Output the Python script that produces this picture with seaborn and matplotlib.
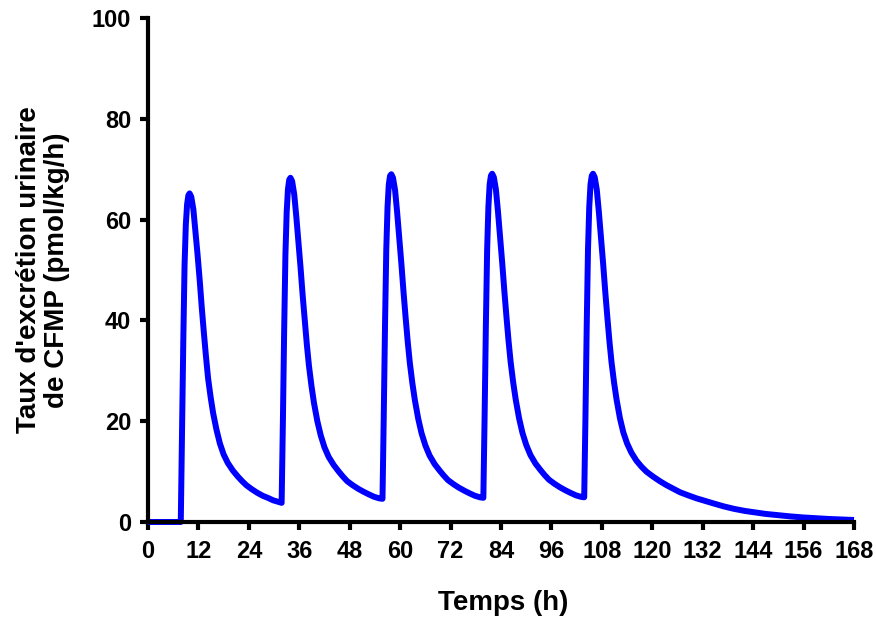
import matplotlib
matplotlib.use("Agg")
import matplotlib.pyplot as plt
import seaborn as sns
import pandas as pd

# ---- data ----
t_base = [0.0, 7.8]
v_base = [0.0, 0.0]

t_c1 = [8.1, 8.4, 8.7, 9.0, 9.3, 9.6, 9.9, 10.3, 10.8, 11.3, 11.8, 12.3, 12.8, 13.3, 13.8, 14.3, 14.9,
        15.5, 16.3, 17.1, 18.0, 19.0, 20.2, 21.4, 22.4, 23.4, 24.7, 26.0, 27.3, 28.5, 29.8, 31.0, 31.8]
v_c1 = [18, 36, 51, 59, 63, 64.8, 65.2, 64.5, 62, 57.5, 53, 48, 42.5, 37.5, 32.8, 28.5, 24.8,
        21.6, 18.3, 15.6, 13.4, 11.7, 10.2, 9.0, 8.1, 7.3, 6.5, 5.8, 5.2, 4.8, 4.3, 4.0, 3.8]

t_c2 = [32.1, 32.4, 32.7, 33.0, 33.3, 33.6, 33.9, 34.3, 34.8, 35.3, 35.8, 36.3, 36.8, 37.3, 37.8, 38.3, 38.9,
        39.5, 40.3, 41.1, 42.0, 43.0, 44.2, 45.4, 46.4, 47.4, 48.7, 50.0, 51.3, 52.5, 53.8, 55.0, 55.8]
v_c2 = [20, 38, 53, 61.5, 66, 67.9, 68.3, 67.6, 65, 60.5, 55.5, 50.5, 45, 40, 35.2, 31, 27,
        23.6, 20.0, 17.2, 14.8, 12.9, 11.3, 10.0, 9.0, 8.1, 7.3, 6.6, 6.0, 5.5, 5.0, 4.7, 4.6]

t_c3 = [56.1, 56.4, 56.7, 57.0, 57.3, 57.6, 57.9, 58.3, 58.8, 59.3, 59.8, 60.3, 60.8, 61.3, 61.8, 62.3, 62.9,
        63.5, 64.3, 65.1, 66.0, 67.0, 68.2, 69.4, 70.4, 71.4, 72.7, 74.0, 75.3, 76.5, 77.8, 79.0, 79.8]
v_c3 = [21, 39, 54, 62.5, 67, 68.7, 69.0, 68.3, 65.8, 61.3, 56.3, 51.2, 45.7, 40.6, 35.8, 31.6, 27.6,
        24.2, 20.5, 17.6, 15.2, 13.2, 11.5, 10.2, 9.2, 8.3, 7.5, 6.8, 6.2, 5.7, 5.2, 4.9, 4.8]

t_c4 = [80.1, 80.4, 80.7, 81.0, 81.3, 81.6, 81.9, 82.3, 82.8, 83.3, 83.8, 84.3, 84.8, 85.3, 85.8, 86.3, 86.9,
        87.5, 88.3, 89.1, 90.0, 91.0, 92.2, 93.4, 94.4, 95.4, 96.7, 98.0, 99.3, 100.5, 101.8, 103.0, 103.8]
v_c4 = [21, 39, 54, 62.5, 67, 68.7, 69.1, 68.4, 65.9, 61.4, 56.4, 51.3, 45.8, 40.7, 35.9, 31.7, 27.7,
        24.3, 20.6, 17.7, 15.3, 13.3, 11.6, 10.3, 9.3, 8.4, 7.6, 6.9, 6.3, 5.8, 5.3, 5.0, 4.9]

t_c5 = [104.1, 104.4, 104.7, 105.0, 105.3, 105.6, 105.9, 106.3, 106.8, 107.3, 107.8, 108.3, 108.8, 109.3,
        109.8, 110.3, 110.9, 111.5, 112.3, 113.1, 114.0, 115.0, 116.2, 117.4, 118.6, 120.2, 121.8, 123.4,
        125.0, 126.6, 128.5, 130.5, 132.5, 134.5, 137.0, 139.5, 142.0, 144.5, 147.0, 150.0, 153.0, 156.0,
        159.0, 162.0, 165.0, 168.0]
v_c5 = [21, 39, 54, 62.5, 67, 68.7, 69.1, 68.4, 65.9, 61.4, 56.4, 51.3, 45.8, 40.7,
        35.9, 31.7, 27.7, 24.3, 20.6, 17.8, 15.6, 13.8, 12.2, 11.0, 10.0, 9.0, 8.1, 7.3,
        6.6, 5.9, 5.3, 4.7, 4.2, 3.7, 3.1, 2.6, 2.2, 1.9, 1.6, 1.35, 1.1, 0.9,
        0.75, 0.6, 0.5, 0.4]

x_ticks = [0, 12, 24, 36, 48, 60, 72, 84, 96, 108, 120, 132, 144, 156, 168]
y_ticks = [0, 20, 40, 60, 80, 100]

x_label = "Temps (h)"
y_label = "Taux d'excrétion urinaire\nde CFMP (pmol/kg/h)"

# ---- assemble ----
t_all = t_base + t_c1 + t_c2 + t_c3 + t_c4 + t_c5
v_all = v_base + v_c1 + v_c2 + v_c3 + v_c4 + v_c5
df = pd.DataFrame({"t": t_all, "v": v_all})

sns.set_style("ticks")
plt.rcParams["font.family"] = ["Liberation Sans", "DejaVu Sans"]
plt.rcParams["font.weight"] = "bold"
plt.rcParams["text.color"] = "black"

fig = plt.figure(figsize=(8.76, 6.18), dpi=100)
ax = fig.add_axes([148 / 876, 1 - 522 / 618, (854 - 148) / 876, 504 / 618])

sns.lineplot(data=df, x="t", y="v", ax=ax, sort=False, estimator=None,
             color="#0000FF", linewidth=4.3)
for line in ax.get_lines():
    line.set_solid_joinstyle("round")
    line.set_solid_capstyle("butt")
    line.set_clip_on(False)

ax.set_xlim(0, 168)
ax.set_ylim(0, 100)
ax.set_xticks(x_ticks)
ax.set_yticks(y_ticks)
ax.set_xticklabels([str(v) for v in x_ticks], fontsize=17, fontweight="bold", color="black")
ax.set_yticklabels([str(v) for v in y_ticks], fontsize=17, fontweight="bold", color="black")
ax.tick_params(axis="both", direction="out", length=6, width=3, colors="black")
ax.tick_params(axis="x", pad=7)
ax.tick_params(axis="y", pad=6)

for s in ["top", "right"]:
    ax.spines[s].set_visible(False)
for s in ["left", "bottom"]:
    ax.spines[s].set_linewidth(3)
    ax.spines[s].set_color("black")
    ax.spines[s].set_capstyle("projecting")

ax.set_xlabel(x_label, fontsize=20, fontweight="bold", color="black")
ax.set_ylabel(y_label, fontsize=20, fontweight="bold", color="black", linespacing=1.05)
ax.xaxis.label.set_va("center")
ax.yaxis.label.set_va("center")
ax.xaxis.set_label_coords((503 - 148) / 706, (522 - 603) / 504)
ax.yaxis.set_label_coords((43 - 148) / 706, 0.5)

fig.savefig("out.png", dpi=100)
